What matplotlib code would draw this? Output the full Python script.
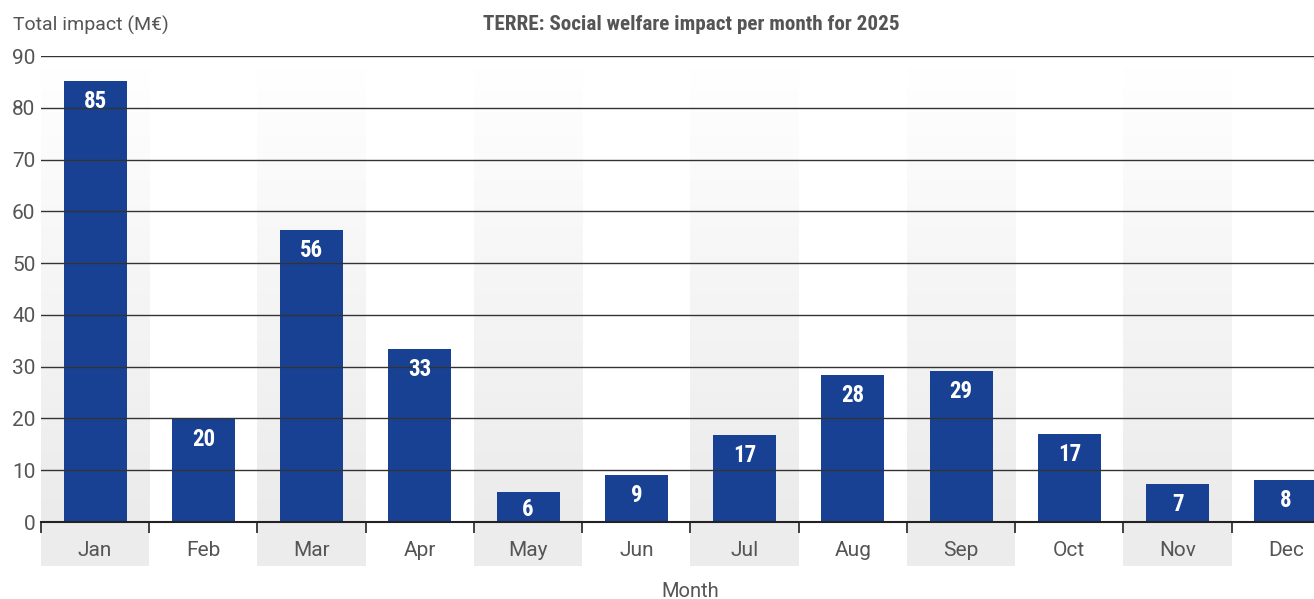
import numpy as np
import matplotlib.pyplot as plt
from matplotlib.patches import Rectangle
from matplotlib import transforms

months = ["Jan", "Feb", "Mar", "Apr", "May", "Jun",
          "Jul", "Aug", "Sep", "Oct", "Nov", "Dec"]
impact = [85.2, 19.9, 56.45, 33.45, 5.8, 9.1, 16.8, 28.4, 29.2, 17.0, 7.3, 8.1]
yticks = [0, 10, 20, 30, 40, 50, 60, 70, 80, 90]

BAR = "#184193"
GREY_TXT = "#555555"
COND = ["Roboto Condensed", "Liberation Sans Narrow", "Roboto", "DejaVu Sans"]

plt.rcParams["font.family"] = ["Roboto", "DejaVu Sans"]

W, H = 1314, 599
AX_H = 522 - 56
fig = plt.figure(figsize=(W / 100, H / 100), dpi=100)
ax = fig.add_axes([41 / W, (H - 522) / H, (W - 41) / W, AX_H / H])

x = np.arange(len(months))
XMAX = 11.26

# shaded columns behind every other month, fading towards the top
grad = np.linspace(0, 1, 256).reshape(-1, 1)
cmap = plt.matplotlib.colors.LinearSegmentedColormap.from_list(
    "fade", ["#ebebeb", "#ffffff"])
below = transforms.blended_transform_factory(ax.transData, ax.transAxes)
for i in x[::2]:
    ax.imshow(grad, cmap=cmap, aspect="auto", origin="lower",
              extent=(i - 0.5, i + 0.5, 0, 88), zorder=0, interpolation="bilinear")
    ax.add_patch(Rectangle((i - 0.5, -44 / AX_H), 1, 44 / AX_H, transform=below,
                           facecolor="#ececec", edgecolor="none",
                           clip_on=False, zorder=0))

ax.set_yticks(yticks)
ax.grid(axis="y", color="#333333", linewidth=1.0, zorder=1)
ax.set_axisbelow(False)

ax.bar(x, impact, width=0.58, color=BAR, zorder=2)

ax.set_xticks(np.arange(-0.5, 12, 1))
ax.set_xticklabels([])
ax.set_xticks(x, minor=True)
ax.set_xticklabels(months, minor=True)
ax.set_xlim(-0.5, XMAX)
ax.set_ylim(0, 90)

# value labels sit ~18px under the bar top, or mid-bar for short bars
px_per_unit = AX_H / 90
for xi, v in zip(x, impact):
    off_px = min(18, v * px_per_unit / 2)
    ax.annotate(f"{v:.0f}", (xi, v), xytext=(0, -off_px * 0.72),
                textcoords="offset points", ha="center", va="center_baseline",
                color="white", fontsize=16.5, fontweight="bold", family=COND,
                zorder=3)

for s in ["top", "right", "left"]:
    ax.spines[s].set_visible(False)
ax.spines["bottom"].set_color("#222222")
ax.spines["bottom"].set_linewidth(1.5)
ax.spines["bottom"].set_zorder(4)

ax.tick_params(axis="y", length=0, pad=4, labelsize=15, labelcolor=GREY_TXT)
ax.tick_params(axis="x", which="major", length=8, width=1.3, color="#333333")
ax.tick_params(axis="x", which="minor", length=0, pad=13.5, labelsize=15,
               labelcolor=GREY_TXT)
# the month axis runs past the right edge, so centre the label on all 12 months
ax.set_xlabel("Month", fontsize=14.5, color=GREY_TXT, labelpad=16,
              x=6 / (XMAX + 0.5))

fig.text(13 / W, 1 - 25 / H, "Total impact (M\u20ac)", fontsize=14,
         color=GREY_TXT, va="center", ha="left")
fig.text(691 / W, 1 - 24 / H, "TERRE: Social welfare impact per month for 2025",
         fontsize=15.2, fontweight="bold", family=COND, color=GREY_TXT,
         va="center", ha="center")

fig.savefig("out.png", dpi=100)
